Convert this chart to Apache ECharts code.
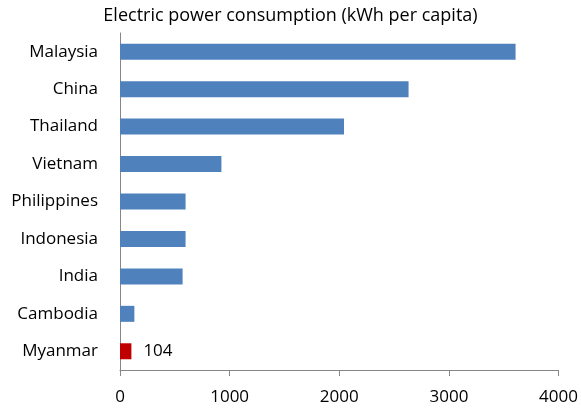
<!DOCTYPE html>
<html>
<head>
<meta charset="utf-8">
<script src="https://cdn.jsdelivr.net/npm/echarts@6/dist/echarts.min.js"></script>
<style>
  html, body { margin: 0; padding: 0; background: #fff; }
  #chart { width: 581px; height: 409px; }
</style>
</head>
<body>
<div id="chart"></div>
<script>
// data
const countries = ['Malaysia', 'China', 'Thailand', 'Vietnam', 'Philippines', 'Indonesia', 'India', 'Cambodia', 'Myanmar']
const kwhPerCapita = [3608, 2632, 2043, 925, 598, 598, 571, 131, 104]
const highlight = 'Myanmar'
const xTicks = [0, 1000, 2000, 3000, 4000]

const font = 'Open Sans'
const chart = echarts.init(document.getElementById('chart'))

const option = {
  animation: false,
  title: {
    text: 'Electric power consumption (kWh per capita)',
    left: 'center',
    top: 2,
    textStyle: { fontFamily: font, fontWeight: 'normal', fontSize: 18, color: '#000' }
  },
  grid: { left: 120, right: 22, top: 33, bottom: 39 },
  xAxis: {
    type: 'value',
    min: xTicks[0],
    max: xTicks[xTicks.length - 1],
    interval: 1000,
    splitLine: { show: false },
    axisLine: { show: true, lineStyle: { color: '#868686', width: 1 } },
    axisTick: { show: true, length: 6, lineStyle: { color: '#868686' } },
    axisLabel: {
      fontFamily: font, fontSize: 17, color: '#000', margin: 19,
      formatter: v => String(v)
    }
  },
  yAxis: {
    type: 'category',
    data: countries,
    inverse: true,
    axisLine: { lineStyle: { color: '#868686', width: 1 } },
    axisTick: { length: 6, lineStyle: { color: '#868686' } },
    axisLabel: { fontFamily: font, fontSize: 17, color: '#000', margin: 22 }
  },
  series: [{
    type: 'bar',
    barWidth: 16,
    data: kwhPerCapita.map((v, i) => ({
      value: v,
      itemStyle: { color: countries[i] === highlight ? '#C00000' : '#4F81BD' },
      label: {
        show: countries[i] === highlight,
        position: 'right',
        distance: 12,
        fontFamily: font,
        fontSize: 17,
        color: '#000'
      }
    }))
  }]
}

chart.setOption(option)
</script>
</body>
</html>
